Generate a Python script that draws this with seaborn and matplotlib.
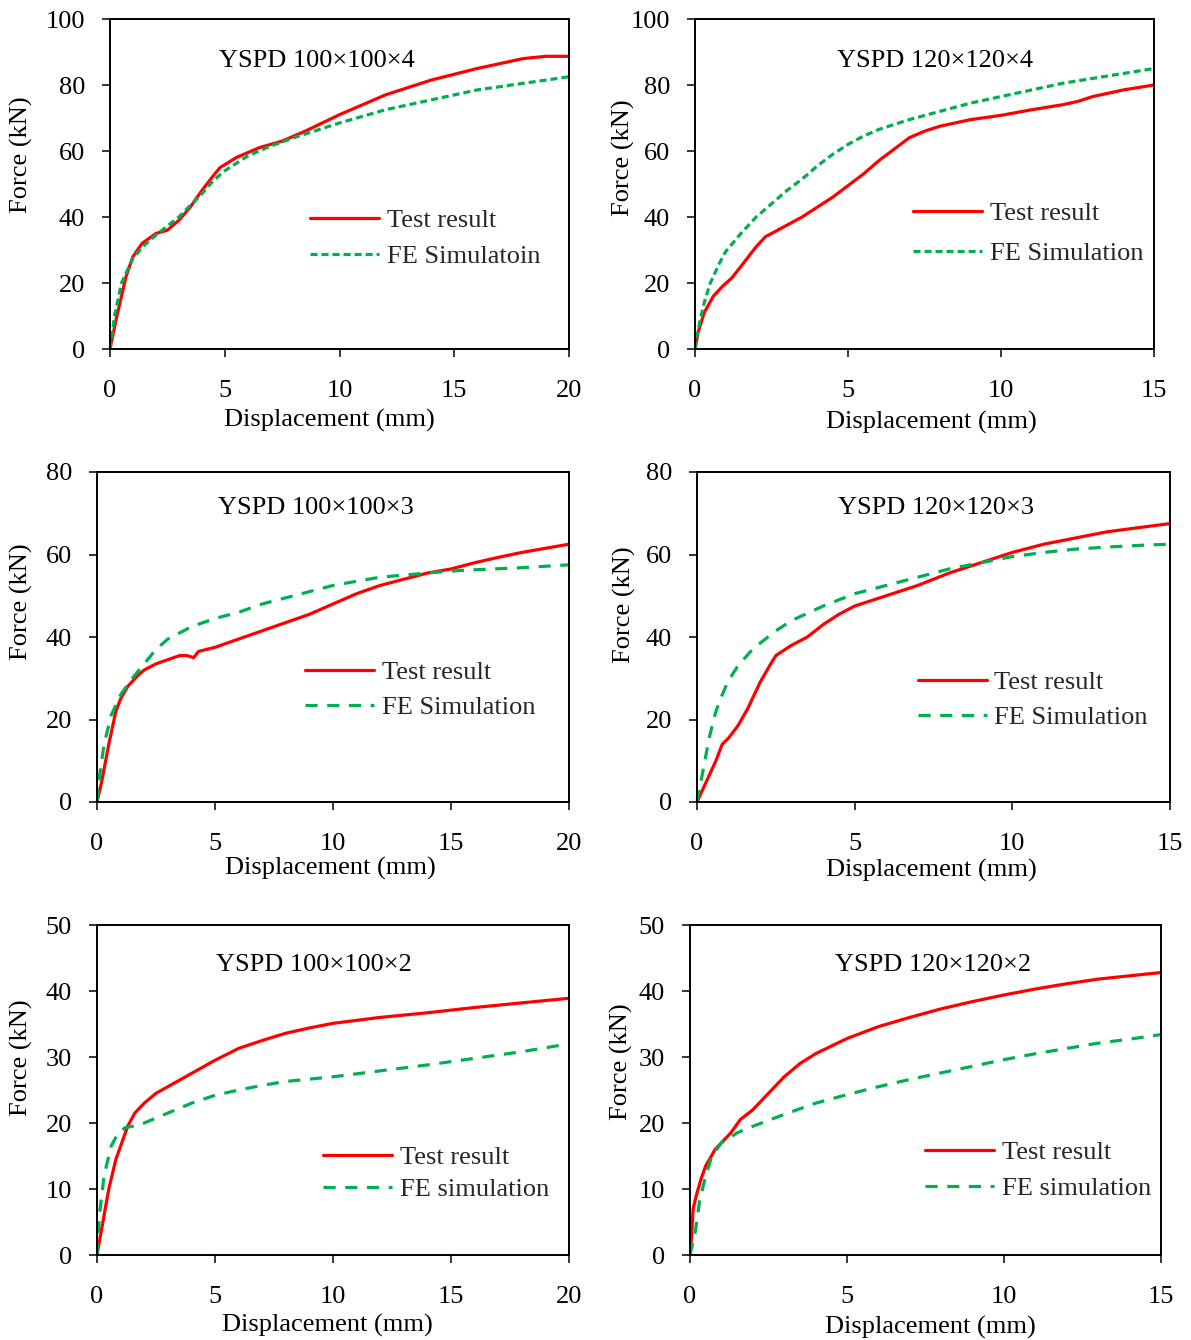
import numpy as np
import pandas as pd
import matplotlib
matplotlib.use("Agg")
import matplotlib.pyplot as plt
import seaborn as sns

# ---------------- data ----------------
titles = ["YSPD 100\u00d7100\u00d74", "YSPD 120\u00d7120\u00d74",
          "YSPD 100\u00d7100\u00d73", "YSPD 120\u00d7120\u00d73",
          "YSPD 100\u00d7100\u00d72", "YSPD 120\u00d7120\u00d72"]
fe_labels = ["FE Simulatoin", "FE Simulation", "FE Simulation",
             "FE Simulation", "FE simulation", "FE simulation"]
x_max = [20, 15, 20, 15, 20, 15]
y_max = [100, 100, 80, 80, 50, 50]
x_ticks = [[0, 5, 10, 15, 20], [0, 5, 10, 15], [0, 5, 10, 15, 20],
           [0, 5, 10, 15], [0, 5, 10, 15, 20], [0, 5, 10, 15]]
y_ticks = [[0, 20, 40, 60, 80, 100], [0, 20, 40, 60, 80, 100],
           [0, 20, 40, 60, 80], [0, 20, 40, 60, 80],
           [0, 10, 20, 30, 40, 50], [0, 10, 20, 30, 40, 50]]

# Panel 1: YSPD 100x100x4
test1_x = [0, 0.3, 0.7, 1.0, 1.4, 2.0, 2.5, 3.0, 3.5, 4.0, 4.5, 4.8, 5.5, 6.5, 7.5, 8.5, 10, 12, 14, 16, 18, 19, 20]
test1_y = [0, 10, 22, 28, 32, 35, 36, 39, 43, 48, 52.5, 55, 58, 61, 63, 66, 71, 77, 81.5, 85, 88, 88.7, 88.7]
fe1_x = [0, 0.2, 0.5, 1.0, 1.5, 2.0, 3.0, 4.0, 4.5, 5.0, 6.0, 7.0, 8.0, 10, 12, 14, 16, 18, 20]
fe1_y = [0, 10, 20, 27.5, 31.5, 34.5, 40, 47, 51, 54, 58.5, 61.5, 64, 68.5, 72.5, 75.5, 78.5, 80.5, 82.5]

# Panel 2: YSPD 120x120x4
test2_x = [0, 0.1, 0.3, 0.6, 0.9, 1.2, 1.5, 2.0, 2.3, 2.6, 3.0, 3.5, 4.0, 4.5, 5.0, 5.5, 6.0, 6.5, 7.0, 7.5, 8.0, 9.0, 10, 11, 12, 12.5, 13, 14, 15]
test2_y = [0, 5, 11, 16, 19, 21.5, 25, 31, 34, 35.5, 37.5, 40, 43, 46, 49.5, 53, 57, 60.5, 64, 66, 67.5, 69.5, 70.8, 72.5, 74, 75, 76.5, 78.5, 80]
fe2_x = [0, 0.15, 0.3, 0.5, 0.8, 1.0, 1.5, 2.0, 2.5, 3.0, 3.5, 4.0, 4.5, 5.0, 5.5, 6.0, 7.0, 8.0, 9.0, 10, 11, 12, 13, 14, 15]
fe2_y = [0, 8, 14, 20, 26, 29.5, 35, 40, 44, 48, 51.5, 55.5, 59, 62, 64.5, 66.5, 69.5, 72, 74.5, 76.5, 78.5, 80.5, 82, 83.5, 85]

# Panel 3: YSPD 100x100x3
test3_x = [0, 0.2, 0.5, 0.8, 1.0, 1.3, 1.7, 2.0, 2.5, 3.0, 3.5, 3.8, 4.1, 4.3, 5, 6, 7, 8, 9, 10, 11, 12, 13, 14, 15, 16, 17, 18, 19, 20]
test3_y = [0, 5, 14, 22, 25, 28, 30.5, 32, 33.5, 34.5, 35.5, 35.5, 35, 36.5, 37.5, 39.5, 41.5, 43.5, 45.5, 48, 50.5, 52.5, 54, 55.5, 56.5, 58, 59.3, 60.5, 61.5, 62.5]
fe3_x = [0, 0.1, 0.3, 0.6, 1.0, 1.5, 2.0, 2.5, 3.0, 4.0, 5.0, 6.0, 7.0, 8.0, 9.0, 10, 11, 12, 13, 14, 15, 16, 18, 20]
fe3_y = [0, 6, 14, 21, 26, 30, 33.5, 37, 39.5, 42.5, 44.5, 46, 48, 49.5, 51, 52.5, 53.5, 54.5, 55, 55.5, 56, 56.3, 56.8, 57.5]

# Panel 4: YSPD 120x120x3
test4_x = [0, 0.3, 0.6, 0.8, 1.0, 1.3, 1.6, 2.0, 2.3, 2.5, 2.8, 3.0, 3.5, 4.0, 4.5, 5.0, 6.0, 7.0, 8.0, 9.0, 10, 11, 12, 13, 14, 15]
test4_y = [0, 5, 10, 14, 15.5, 18.5, 22.5, 29, 33, 35.5, 37, 38, 40, 43, 45.5, 47.5, 50, 52.5, 55.5, 58, 60.5, 62.5, 64, 65.5, 66.5, 67.5]
fe4_x = [0, 0.2, 0.4, 0.6, 0.8, 1.0, 1.3, 1.7, 2.0, 2.5, 3.0, 4.0, 5.0, 6.0, 7.0, 8.0, 9.0, 10, 11, 12, 13, 14, 15]
fe4_y = [0, 8, 16, 22, 26, 29.5, 33, 36.5, 38.5, 41.5, 44, 47.5, 50.5, 52.5, 54.5, 56.5, 58, 59.5, 60.5, 61.3, 61.8, 62.2, 62.5]

# Panel 5: YSPD 100x100x2
test5_x = [0, 0.2, 0.5, 0.8, 1.0, 1.3, 1.6, 2.0, 2.5, 3.0, 4.0, 5.0, 6.0, 7.0, 8.0, 9.0, 10, 12, 14, 16, 18, 20]
test5_y = [0, 4, 10, 14.5, 16.5, 19.5, 21.5, 23, 24.5, 25.5, 27.5, 29.5, 31.3, 32.5, 33.6, 34.4, 35.1, 36, 36.7, 37.5, 38.2, 38.9]
fe5_x = [0, 0.1, 0.3, 0.6, 0.9, 1.2, 1.5, 2.0, 3.0, 4.0, 5.0, 6.0, 7.0, 8.0, 10, 12, 14, 16, 18, 20]
fe5_y = [0, 6, 12, 16.5, 18.5, 19.3, 19.5, 20, 21.5, 23, 24.2, 25, 25.7, 26.3, 27, 27.9, 28.8, 29.8, 30.8, 32]

# Panel 6: YSPD 120x120x2
test6_x = [0, 0.05, 0.1, 0.2, 0.35, 0.5, 0.8, 1.0, 1.3, 1.6, 2.0, 2.5, 3.0, 3.5, 4.0, 5.0, 6.0, 7.0, 8.0, 9.0, 10, 11, 12, 13, 14, 15]
test6_y = [0, 3, 7, 9, 11.5, 13.5, 16, 17, 18.5, 20.5, 22, 24.5, 27, 29, 30.5, 32.8, 34.6, 36, 37.3, 38.4, 39.4, 40.3, 41.1, 41.8, 42.3, 42.8]
fe6_x = [0, 0.15, 0.3, 0.5, 0.7, 1.0, 1.5, 2.0, 3.0, 4.0, 5.0, 6.0, 7.0, 8.0, 9.0, 10, 11, 12, 13, 14, 15]
fe6_y = [0, 3, 8, 12, 15, 17, 18.5, 19.5, 21.3, 23, 24.3, 25.5, 26.6, 27.6, 28.6, 29.6, 30.5, 31.3, 32.1, 32.7, 33.4]

tests = [(test1_x, test1_y), (test2_x, test2_y), (test3_x, test3_y),
         (test4_x, test4_y), (test5_x, test5_y), (test6_x, test6_y)]
fes = [(fe1_x, fe1_y), (fe2_x, fe2_y), (fe3_x, fe3_y),
       (fe4_x, fe4_y), (fe5_x, fe5_y), (fe6_x, fe6_y)]

# ---------------- layout / style ----------------
sns.set_theme(style="white")
plt.rcParams["font.family"] = ["Liberation Serif", "DejaVu Serif"]

W, H = 1191, 1340
fig = plt.figure(figsize=(W / 100, H / 100), dpi=100)

# axes boxes in pixels: left, right, top, bottom
boxes = [(110, 569, 19, 349), (695, 1154, 19, 349),
         (97, 569, 472, 802), (697, 1170, 472, 802),
         (97, 569, 925, 1255), (690, 1161, 925, 1255)]
title_pos = [(0.450, 0.873), (0.523, 0.873), (0.464, 0.891),
             (0.505, 0.891), (0.459, 0.879), (0.516, 0.879)]
legend_pos = [(0.436, 0.336), (0.475, 0.350), (0.441, 0.340),
              (0.467, 0.310), (0.479, 0.248), (0.499, 0.257)]
legend_spacing = [0.48, 0.62, 0.44, 0.45, 0.32, 0.48]
xlabel_pos = [(0.479, -0.182), (0.514, -0.188), (0.494, -0.166),
              (0.495, -0.173), (0.489, -0.178), (0.510, -0.185)]
ylabel_pos = [(-0.168, 0.588), (-0.131, 0.58), (-0.136, 0.606),
              (-0.129, 0.597), (-0.136, 0.597), (-0.121, 0.585)]
fe_dash = [(0, (2.2, 1.25)), (0, (2.2, 1.25)), (0, (3.8, 3.0)),
           (0, (3.8, 3.0)), (0, (3.8, 3.0)), (0, (3.8, 3.0))]

RED = "#FF0000"
GREEN = "#00B050"
FS = 19

for i in range(6):
    l, r, t, b = boxes[i]
    ax = fig.add_axes([l / W, 1 - b / H, (r - l) / W, (b - t) / H])
    tx, ty = tests[i]
    fx, fy = fes[i]
    sns.lineplot(x=tx, y=ty, ax=ax, color=RED, lw=2.3, label="Test result",
                 sort=False, estimator=None)
    sns.lineplot(x=fx, y=fy, ax=ax, color=GREEN, lw=2.3, label=fe_labels[i],
                 sort=False, estimator=None, linestyle=fe_dash[i])
    ax.set_xlim(0, x_max[i])
    ax.set_ylim(0, y_max[i])
    ax.set_xticks(x_ticks[i])
    ax.set_yticks(y_ticks[i])
    ax.tick_params(axis="x", direction="out", length=6, width=1.1,
                   colors="black", labelsize=FS, pad=16, bottom=True)
    ax.tick_params(axis="y", direction="out", length=6, width=1.1,
                   colors="black", labelsize=FS, pad=12, left=True)
    for sp in ax.spines.values():
        sp.set_color("black")
        sp.set_linewidth(1.4)
        sp.set_visible(True)
    ax.set_xlabel("Displacement (mm)", fontsize=FS, color="black")
    ax.set_ylabel("Force (kN)", fontsize=FS, color="black")
    ax.xaxis.set_label_coords(*xlabel_pos[i])
    ax.yaxis.set_label_coords(*ylabel_pos[i])
    ax.text(title_pos[i][0], title_pos[i][1], titles[i], transform=ax.transAxes,
            ha="center", va="center", fontsize=FS, color="black")
    ax.legend(loc="center left", bbox_to_anchor=legend_pos[i], frameon=False,
              fontsize=FS, handlelength=2.6, handletextpad=0.3,
              borderpad=0, borderaxespad=0, labelspacing=legend_spacing[i])
    ax.grid(False)

fig.savefig("out.png", dpi=100, facecolor="white")
